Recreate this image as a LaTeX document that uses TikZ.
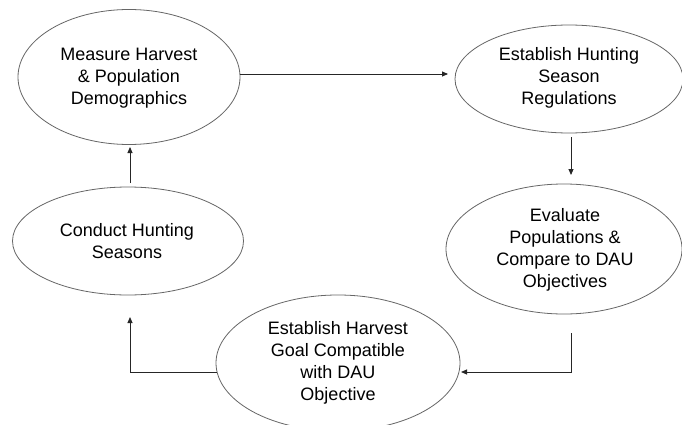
\documentclass[tikz,border=0pt]{standalone}
\usepackage{fontspec}
\setmainfont{Liberation Sans}
\usetikzlibrary{shapes.geometric,arrows.meta}
\begin{document}
\begin{tikzpicture}[x=1pt,y=-1pt,
  stage/.style={ellipse, draw=black!60, line width=0.8pt, inner sep=0pt},
  stagetext/.style={align=center, font=\fontsize{18}{22}\selectfont, inner sep=0pt},
  flow/.style={draw=black!85, line width=0.9pt, -{Triangle[length=6pt,width=5pt]}}]
\useasboundingbox (0,0) rectangle (682,425);
\clip (0,0) rectangle (682,425);
\fill[white] (0,0) rectangle (682,425);
% stages
\node[stage, minimum width=222pt, minimum height=135pt] (measure) at (129,77) {};
\node[stagetext] (measuretext) at (129,78) {Measure Harvest\\\& Population\\Demographics};
\node[stage, minimum width=228pt, minimum height=108pt] (hunting) at (569,79) {};
\node[stagetext] (huntingtext) at (569,78) {Establish Hunting\\Season\\Regulations};
\node[stage, minimum width=236pt, minimum height=130pt] (evaluate) at (564,249) {};
\node[stagetext] (evaluatetext) at (565,250) {Evaluate\\Populations \&\\Compare to DAU\\Objectives};
\node[stage, minimum width=244pt, minimum height=136pt] (harvest) at (338,363) {};
\node[stagetext] (harvesttext) at (338,363) {Establish Harvest\\Goal Compatible\\with DAU\\Objective};
\node[stage, minimum width=231pt, minimum height=108pt] (conduct) at (128,241) {};
\node[stagetext] (conducttext) at (127,241) {Conduct Hunting\\Seasons};
% connectors
\coordinate (mout) at (240,74);
\coordinate (hin) at (448,74);
\draw[flow] (mout) -- (hin);
\coordinate (hout) at (571,137);
\coordinate (ein) at (571,175);
\draw[flow] (hout) -- (ein);
\coordinate (eout) at (571,333);
\coordinate (harvin) at (461,372);
\draw[flow] (eout) |- (harvin);
\coordinate (harvout) at (217,372);
\coordinate (cin) at (130,317);
\draw[flow] (harvout) -| (cin);
\coordinate (cout) at (130,183);
\coordinate (min) at (130,147);
\draw[flow] (cout) -- (min);
\end{tikzpicture}
\end{document}
